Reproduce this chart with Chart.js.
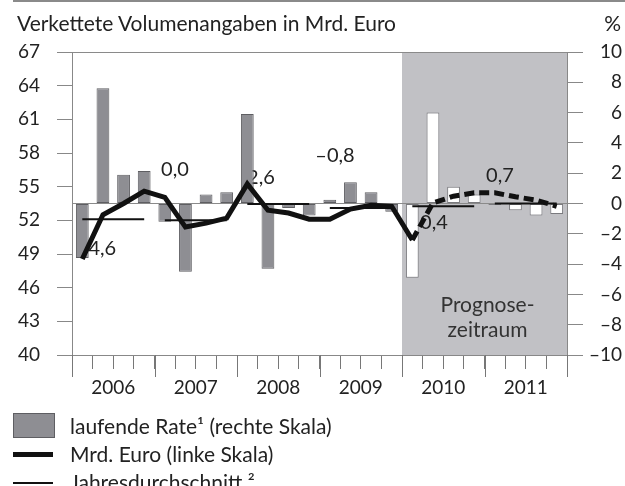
<!DOCTYPE html>
<html>
<head>
<meta charset="utf-8">
<script src="https://cdn.jsdelivr.net/npm/chart.js@4.4.0/dist/chart.umd.min.js"></script>
<style>
    body { margin: 0; background: #fff; font-family: Lato, sans-serif; color: #222; }
    #wrap { position: relative; width: 625px; height: 486px; overflow: hidden; }
    #rule { position: absolute; left: 13px; right: 0; top: 0; height: 2px; background: #8a8a8a; }
    .title { position: absolute; top: 12px; left: 17px; font-size: 21px; line-height: 21px; white-space: nowrap; }
    .unit { position: absolute; top: 12px; right: 4px; font-size: 21px; line-height: 21px; }
    .legend { position: absolute; left: 13px; top: 412px; font-size: 21px; line-height: 28px; }
    .legend div { position: relative; height: 28px; padding-left: 57px; white-space: nowrap; }
    .legend i { position: absolute; left: 0; }
    .swatch-bar { top: 1px; width: 40px; height: 23px; background: #8e8e93; border: 1px solid #5e5e62; }
    .swatch-thick { top: 12px; width: 40px; height: 5px; background: #111; }
    .swatch-thin { top: 14px; width: 40px; height: 2px; background: #111; }
</style>
</head>
<body>
<div id="wrap">
    <canvas id="gdpChart" width="625" height="486"></canvas>
    <div id="rule"></div>
    <div class="title">Verkettete Volumenangaben in Mrd. Euro</div>
    <div class="unit">%</div>
    <div class="legend">
        <div><i class="swatch-bar"></i>laufende Rate¹ (rechte Skala)</div>
        <div><i class="swatch-thick"></i>Mrd. Euro (linke Skala)</div>
        <div><i class="swatch-thin"></i>Jahresdurchschnitt ²</div>
    </div>
</div>
<script>
    // Quarters 2006-2011
    const quarters = ['I/06', 'II/06', 'III/06', 'IV/06', 'I/07', 'II/07', 'III/07', 'IV/07',
                      'I/08', 'II/08', 'III/08', 'IV/08', 'I/09', 'II/09', 'III/09', 'IV/09',
                      'I/10', 'II/10', 'III/10', 'IV/10', 'I/11', 'II/11', 'III/11', 'IV/11'];
    const years = ['2006', '2007', '2008', '2009', '2010', '2011'];

    // laufende Rate in % (right scale)
    const rateValues = [-3.6, 7.6, 1.9, 2.15, -1.2, -4.5, 0.6, 0.75,
                        5.9, -4.3, -0.3, -0.8, 0.25, 1.4, 0.75, -0.55,
                        -4.9, 6.0, 1.1, 0.6, -0.1, -0.45, -0.8, -0.7];

    // Mrd. Euro (left scale)
    const volumeValues = [48.55, 52.5, 53.5, 54.6, 54.05, 51.4, 51.75, 52.2,
                          55.25, 52.9, 52.65, 52.1, 52.1, 53.0, 53.35, 53.25,
                          50.25, 53.55, 54.15, 54.45, 54.45, 54.1, 53.8, 53.25];

    // Jahresdurchschnitt (left scale)
    const annualAverage = [52.1, 52.0, 53.45, 53.1, 53.25, 53.5];
    const annualRateLabels = ['–4,6', '0,0', '2,6', '–0,8', '0,4', '0,7'];

    // first forecast quarter (I/2010)
    const forecastStart = 16;

    // where the annual rate labels sit: [quarter index, left-scale value]
    const labelAnchors = [[0.69, 49.5], [4.49, 56.5], [8.66, 55.8], [12.25, 57.8], [17.05, 51.8], [20.25, 56.0]];

    const FONT = 'Lato, sans-serif';
    const annualSeries = quarters.map((q, i) => annualAverage[Math.floor(i / 4)]);

    const decor = {
        id: 'decor',
        beforeDraw(chart) {
            const { ctx, chartArea, scales } = chart;
            const step = scales.x.getPixelForValue(1) - scales.x.getPixelForValue(0);
            const x0 = scales.x.getPixelForValue(forecastStart) - step / 2;
            ctx.save();
            ctx.fillStyle = '#c1c1c5';
            ctx.fillRect(x0, chartArea.top, chartArea.right - x0, chartArea.bottom - chartArea.top);
            ctx.restore();
        },
        beforeDatasetsDraw(chart) {
            const { ctx, chartArea, scales } = chart;
            const step = scales.x.getPixelForValue(1) - scales.x.getPixelForValue(0);
            ctx.save();
            ctx.fillStyle = '#222';
            ctx.font = '20px ' + FONT;
            ctx.textAlign = 'center';
            ctx.textBaseline = 'middle';
            annualRateLabels.forEach((txt, i) => {
                const [q, v] = labelAnchors[i];
                ctx.fillText(txt, scales.x.getPixelForValue(q), scales.y.getPixelForValue(v));
            });
            const x0 = scales.x.getPixelForValue(forecastStart) - step / 2;
            const cx = (x0 + chartArea.right) / 2 + 3;
            ctx.fillStyle = '#333';
            ctx.font = '21px ' + FONT;
            ctx.fillText('Prognose-', cx, chartArea.bottom - 50);
            ctx.fillText('zeitraum', cx, chartArea.bottom - 25);
            ctx.restore();
        },
        afterDraw(chart) {
            const { ctx, chartArea, scales } = chart;
            const step = scales.x.getPixelForValue(1) - scales.x.getPixelForValue(0);
            ctx.save();
            ctx.strokeStyle = '#777';
            ctx.lineWidth = 1;
            for (let k = 0; k <= years.length; k++) {
                const x = Math.round(scales.x.getPixelForValue(k * 4) - step / 2) + 0.5;
                ctx.beginPath();
                ctx.moveTo(x, chartArea.bottom);
                ctx.lineTo(x, chartArea.bottom + 22);
                ctx.stroke();
            }
            ctx.fillStyle = '#222';
            ctx.font = '19px ' + FONT;
            ctx.textAlign = 'center';
            ctx.textBaseline = 'middle';
            years.forEach((y, k) => {
                ctx.fillText(y, scales.x.getPixelForValue(k * 4 + 1.5), chartArea.bottom + 33);
            });
            ctx.restore();
        }
    };

    const gdpCtx = document.getElementById('gdpChart').getContext('2d');
    new Chart(gdpCtx, {
        data: {
            labels: quarters,
            datasets: [{
                type: 'line',
                label: 'Mrd. Euro (linke Skala)',
                data: volumeValues,
                yAxisID: 'y',
                borderColor: '#111',
                borderWidth: 5,
                borderJoinStyle: 'miter',
                pointRadius: 0,
                tension: 0,
                order: 1,
                segment: {
                    borderDash: ctx => ctx.p0DataIndex >= forecastStart ? [10, 5] : undefined
                }
            }, {
                type: 'line',
                label: 'Jahresdurchschnitt',
                data: annualSeries,
                yAxisID: 'y',
                borderColor: '#111',
                borderWidth: 2,
                pointRadius: 0,
                order: 2,
                segment: {
                    borderColor: ctx => Math.floor(ctx.p0DataIndex / 4) === Math.floor(ctx.p1DataIndex / 4) ? '#111' : 'rgba(0,0,0,0)'
                }
            }, {
                type: 'bar',
                label: 'laufende Rate (rechte Skala)',
                data: rateValues,
                yAxisID: 'y2',
                backgroundColor: ctx => ctx.dataIndex >= forecastStart ? '#ffffff' : '#8e8e93',
                borderColor: ctx => ctx.dataIndex >= forecastStart ? '#7a7a7e' : '#5e5e62',
                borderWidth: 1,
                borderSkipped: false,
                barPercentage: 0.62,
                categoryPercentage: 1,
                order: 3
            }]
        },
        options: {
            responsive: false,
            animation: false,
            layout: { padding: { top: 52, right: 3, left: 0, bottom: 0 } },
            plugins: {
                legend: { display: false },
                tooltip: { enabled: false }
            },
            scales: {
                x: {
                    type: 'category',
                    offset: true,
                    grid: { offset: true, drawOnChartArea: false, tickLength: 14, color: '#777' },
                    border: { display: true, color: '#888' },
                    ticks: { display: false, autoSkip: false },
                    afterFit: s => { s.height = 131; }
                },
                y: {
                    position: 'left',
                    min: 40,
                    max: 67,
                    ticks: { stepSize: 3, padding: 17, color: '#222', font: { family: FONT, size: 19 } },
                    grid: { drawOnChartArea: false, tickLength: 15, color: '#888' },
                    border: { display: true, color: '#888' },
                    afterFit: s => { s.width = 72; }
                },
                y2: {
                    position: 'right',
                    min: -10,
                    max: 10,
                    ticks: {
                        stepSize: 2,
                        padding: 6,
                        crossAlign: 'far',
                        color: '#222',
                        font: { family: FONT, size: 19 },
                        callback: v => v < 0 ? '–' + Math.abs(v) : String(v)
                    },
                    grid: {
                        drawOnChartArea: true,
                        tickLength: 16,
                        tickColor: '#888',
                        color: ctx => (ctx.tick && [-10, 0, 10].includes(ctx.tick.value)) ? '#8a8a8a' : 'rgba(0,0,0,0)'
                    },
                    border: { display: true, color: '#888' },
                    afterFit: s => { s.width = 55; }
                }
            }
        },
        plugins: [decor]
    });
</script>
</body>
</html>
